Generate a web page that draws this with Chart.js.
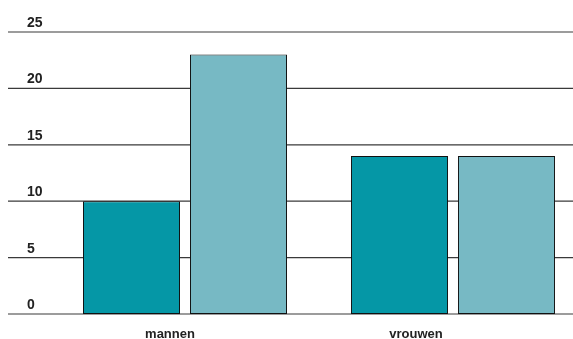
<!DOCTYPE html>
<html>
<head>
<meta charset="utf-8">
<script src="https://cdn.jsdelivr.net/npm/chart.js@4/dist/chart.umd.min.js"></script>
<style>
    html, body { margin: 0; padding: 0; background: #fff; }
    #wrap { width: 573px; height: 339px; overflow: hidden; }
</style>
</head>
<body>
<div id="wrap"><canvas id="chart" width="600" height="339"></canvas></div>
<script>
// Gegevens uit de grafiek
const categories = ['mannen', 'vrouwen'];
const serieA = [10, 14];
const serieB = [23, 14];
const yTicks = [0, 5, 10, 15, 20, 25];

// Labels staan iets links van het midden van de groep
const labelShift = [-15, -37];

// Rasterlijnen en labels zelf tekenen, lijnen lopen over de hele breedte
const gridPlugin = {
    id: 'grid',
    beforeDatasetsDraw(chart) {
        const ctx = chart.ctx;
        const y = chart.scales.y;
        ctx.save();
        ctx.strokeStyle = '#3a3a3a';
        ctx.lineWidth = 1.2;
        ctx.fillStyle = '#222';
        ctx.font = 'bold 14px "Liberation Sans", Arial, sans-serif';
        ctx.textAlign = 'left';
        ctx.textBaseline = 'alphabetic';
        yTicks.forEach(v => {
            let py = y.getPixelForValue(v);
            ctx.beginPath();
            ctx.moveTo(8, py);
            ctx.lineTo(573, py);
            ctx.stroke();
            ctx.fillText(String(v), 27, py - 5);
        });
        ctx.restore();
    },
    afterDraw(chart) {
        const ctx = chart.ctx;
        const x = chart.scales.x;
        ctx.save();
        ctx.fillStyle = '#222';
        ctx.font = 'bold 13px "Liberation Sans", Arial, sans-serif';
        ctx.textAlign = 'center';
        ctx.textBaseline = 'alphabetic';
        categories.forEach((c, i) => {
            ctx.fillText(c, x.getPixelForValue(i) + labelShift[i], 338);
        });
        ctx.restore();
    }
};

let canvas = document.querySelector('#chart').getContext('2d');
window.chartObj = new Chart(canvas, {
    type: 'bar',
    data: {
        labels: categories,
        datasets: [{
            data: serieA,
            backgroundColor: '#0597a6',
            borderColor: '#111',
            borderWidth: 1,
            borderSkipped: false
        }, {
            data: serieB,
            backgroundColor: '#77b9c4',
            borderColor: '#111',
            borderWidth: 1,
            borderSkipped: false
        }]
    },
    options: {
        responsive: false,
        animation: false,
        devicePixelRatio: 1,
        layout: {
            padding: { left: 51, right: 13, top: 32, bottom: 25 }
        },
        datasets: {
            bar: {
                categoryPercentage: 0.7985,
                barPercentage: 0.907
            }
        },
        plugins: {
            legend: { display: false },
            tooltip: { enabled: false }
        },
        scales: {
            x: { display: false },
            y: { display: false, min: 0, max: 25 }
        }
    },
    plugins: [gridPlugin]
});
</script>
</body>
</html>
